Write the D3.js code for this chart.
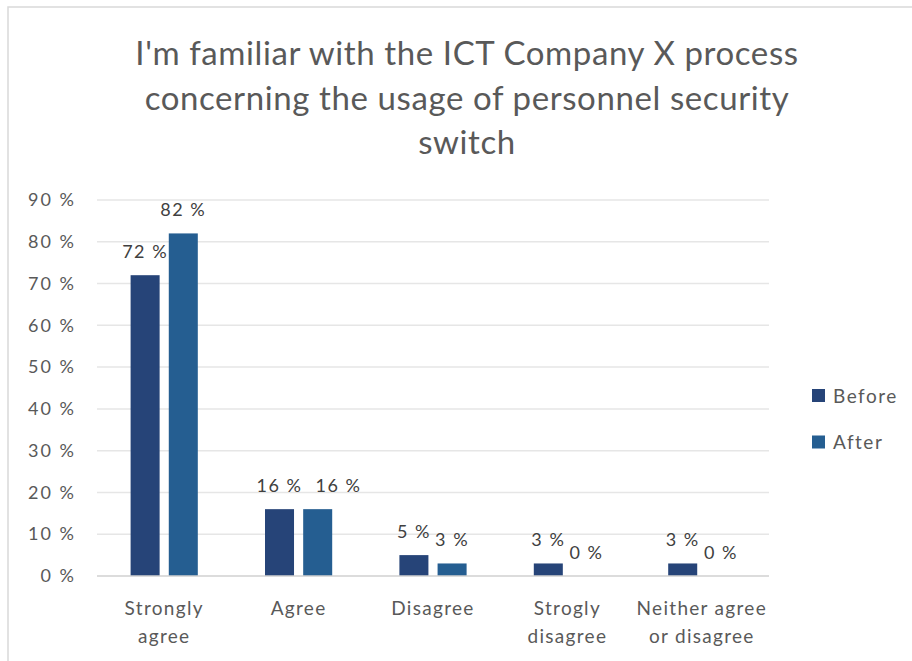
<!DOCTYPE html>
<html>
<head>
<meta charset="utf-8">
<script src="https://cdn.jsdelivr.net/npm/d3@7"></script>
<style>
  html, body { margin: 0; padding: 0; background: #fff; }
  svg { display: block; font-family: Lato, "Open Sans", sans-serif; }
</style>
</head>
<body>
<svg id="chart" width="912" height="661"></svg>
<script>
// Survey answers, share of respondents before and after
const categories = [
  ["Strongly", "agree"],
  ["Agree"],
  ["Disagree"],
  ["Strogly", "disagree"],
  ["Neither agree", "or disagree"]
];
const seriesNames = ["Before", "After"];
const beforeValues = [0.72, 0.16, 0.05, 0.03, 0.03];
const afterValues = [0.82, 0.16, 0.03, 0.00, 0.00];
const yTicks = [0, 0.1, 0.2, 0.3, 0.4, 0.5, 0.6, 0.7, 0.8, 0.9];
const titleLines = [
  "I'm familiar with the ICT Company X process",
  "concerning the usage of personnel security",
  "switch"
];
const colors = ["#264478", "#255e91"];

const svg = d3.select("#chart");
const textColor = "#595959";
const pct = v => Math.round(v * 100) + " %";

// chart frame
svg.append("rect")
  .attr("x", 8).attr("y", 7)
  .attr("width", 940).attr("height", 700)
  .attr("fill", "none").attr("stroke", "#d9d9d9").attr("stroke-width", 1.5);

// title
svg.append("g").selectAll("text").data(titleLines).join("text")
  .attr("x", 467)
  .attr("y", (d, i) => 65 + i * 44.5)
  .attr("text-anchor", "middle")
  .attr("fill", textColor)
  .attr("font-size", 33)
  .attr("letter-spacing", 0.6)
  .text(d => d);

const plot = { left: 97, right: 769, top: 200, bottom: 576 };

const x0 = d3.scaleBand()
  .domain(d3.range(categories.length))
  .range([plot.left, plot.right])
  .padding(0);
const groupWidth = x0.bandwidth() / 2;
const x1 = d3.scaleBand()
  .domain(seriesNames)
  .range([0, groupWidth])
  .paddingInner(0.24)
  .paddingOuter(0);
const y = d3.scaleLinear().domain([0, 0.9]).range([plot.bottom, plot.top]);

// gridlines
svg.append("g").selectAll("line").data(yTicks.filter(t => t > 0)).join("line")
  .attr("x1", plot.left).attr("x2", plot.right)
  .attr("y1", d => y(d)).attr("y2", d => y(d))
  .attr("stroke", "#e6e6e6").attr("stroke-width", 1.5);

// y axis labels
const yAxis = d3.axisLeft(y).tickValues(yTicks).tickFormat(pct).tickSize(0).tickPadding(21);
const gy = svg.append("g").attr("transform", `translate(${plot.left},0)`).call(yAxis);
gy.select(".domain").remove();
gy.selectAll("text")
  .attr("fill", textColor)
  .attr("font-size", 18)
  .attr("letter-spacing", 2)
  .attr("font-family", "Lato, sans-serif");

// bars
const rows = categories.map((c, i) => ({
  i,
  values: [beforeValues[i], afterValues[i]]
}));
const groups = svg.append("g").selectAll("g").data(rows).join("g")
  .attr("transform", d => `translate(${x0(d.i) + (x0.bandwidth() - groupWidth) / 2},0)`);

groups.selectAll("rect").data(d => d.values.map((v, k) => ({ v, k }))).join("rect")
  .attr("x", d => x1(seriesNames[d.k]))
  .attr("width", x1.bandwidth())
  .attr("y", d => y(d.v))
  .attr("height", d => plot.bottom - y(d.v))
  .attr("fill", d => colors[d.k]);

// value labels, nudged right when they would collide with the neighbour's label
groups.each(function () {
  const g = d3.select(this);
  const labels = g.selectAll("text.val").data(d => d.values.map((v, k) => ({ v, k }))).join("text")
    .attr("class", "val")
    .attr("x", d => x1(seriesNames[d.k]) + x1.bandwidth() / 2)
    .attr("y", d => y(d.v) - 17.5)
    .attr("text-anchor", "middle")
    .attr("fill", "#404040")
    .attr("font-size", 18)
    .attr("letter-spacing", 1.5)
    .text(d => pct(d.v));
  const nodes = labels.nodes();
  for (let k = 1; k < nodes.length; k++) {
    const prev = nodes[k - 1].getBBox();
    const cur = nodes[k].getBBox();
    const vOverlap = Math.abs(prev.y - cur.y) < cur.height * 0.6;
    const gap = cur.x - (prev.x + prev.width);
    if (vOverlap && gap < 4) {
      const shift = 13 - gap;
      nodes[k].setAttribute("x", +nodes[k].getAttribute("x") + shift);
    }
  }
});

// x axis line
svg.append("line")
  .attr("x1", plot.left).attr("x2", plot.right)
  .attr("y1", plot.bottom).attr("y2", plot.bottom)
  .attr("stroke", "#d0d0d0").attr("stroke-width", 1.5);

// category labels
const catLabels = svg.append("g").selectAll("text").data(categories).join("text")
  .attr("x", (d, i) => x0(i) + x0.bandwidth() / 2)
  .attr("y", 615)
  .attr("text-anchor", "middle")
  .attr("fill", textColor)
  .attr("font-size", 19)
  .attr("letter-spacing", 1.3);
catLabels.selectAll("tspan").data(d => d).join("tspan")
  .attr("x", function () { return this.parentNode.getAttribute("x"); })
  .attr("dy", (d, i) => i === 0 ? 0 : 28)
  .text(d => d);

// legend
const legend = svg.append("g").selectAll("g").data(seriesNames).join("g")
  .attr("transform", (d, i) => `translate(812,${389 + i * 46.5})`);
legend.append("rect")
  .attr("width", 13).attr("height", 13)
  .attr("fill", (d, i) => colors[i]);
legend.append("text")
  .attr("x", 21).attr("y", 13.5)
  .attr("fill", textColor)
  .attr("font-size", 19)
  .attr("letter-spacing", 1.5)
  .text(d => d);
</script>
</body>
</html>
